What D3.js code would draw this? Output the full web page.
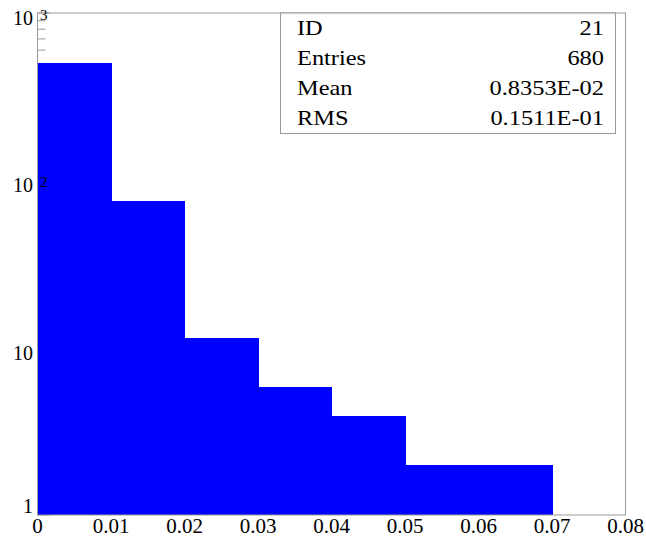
<!DOCTYPE html>
<html>
<head>
<meta charset="utf-8">
<script src="https://cdn.jsdelivr.net/npm/d3@7"></script>
<style>
  html, body { margin: 0; padding: 0; background: #fff; }
  svg { display: block; }
  text { font-family: "Liberation Serif", "DejaVu Serif", serif; fill: #000; }
</style>
</head>
<body>
<svg id="chart" width="646" height="539"></svg>
<script>
// Histogram bins (lower edges, width 0.01) and their contents
const binEdges = [0.00, 0.01, 0.02, 0.03, 0.04, 0.05, 0.06, 0.07];
const binCounts = [505, 75, 11.5, 5.8, 3.9, 2, 2];

// Axis ticks
const xTicks = [0, 0.01, 0.02, 0.03, 0.04, 0.05, 0.06, 0.07, 0.08];
const xTickLabels = ["0", "0.01", "0.02", "0.03", "0.04", "0.05", "0.06", "0.07", "0.08"];
const yMajor = [1, 10, 100, 1000];
const yMajorBase = ["1", "10", "10", "10"];
const yMajorExp = ["", "", "2", "3"];

// Statistics box
const statNames = ["ID", "Entries", "Mean", "RMS"];
const statValues = ["21", "680", "0.8353E-02", "0.1511E-01"];

const svg = d3.select("#chart");
const plotL = 37.5, plotR = 625.5, plotT = 13, plotB = 515;

const x = d3.scaleLinear().domain([0, 0.08]).range([plotL, plotR]);
const y = d3.scaleLog().domain([1, 1000]).range([plotB, plotT]);

// minor + major ticks on the log axis, drawn beneath the bars
const minor = [];
for (let k = 0; k < 3; k++) for (let m = 2; m <= 9; m++) minor.push(m * Math.pow(10, k));

const tickG = svg.append("g").attr("stroke", "#9a9a9a").attr("stroke-width", 1);
tickG.selectAll("line.minor").data(minor).join("line")
  .attr("class", "minor")
  .attr("x1", plotL).attr("x2", plotL + 8)
  .attr("y1", d => y(d)).attr("y2", d => y(d));
tickG.selectAll("line.major").data(yMajor).join("line")
  .attr("class", "major")
  .attr("x1", plotL).attr("x2", plotL + 12)
  .attr("y1", d => y(d)).attr("y2", d => y(d));

// bars
svg.append("g")
  .attr("shape-rendering", "crispEdges")
  .selectAll("rect").data(binCounts).join("rect")
  .attr("x", (d, i) => x(binEdges[i]))
  .attr("width", (d, i) => x(binEdges[i] + 0.01) - x(binEdges[i]) + 0.5)
  .attr("y", d => y(d))
  .attr("height", d => y(1) - y(d))
  .attr("fill", "#0000ff");

// frame
svg.append("rect")
  .attr("x", plotL).attr("y", plotT)
  .attr("width", plotR - plotL).attr("height", plotB - plotT)
  .attr("fill", "none").attr("stroke", "#9a9a9a").attr("stroke-width", 1);

// x labels
svg.append("g").selectAll("text").data(xTicks).join("text")
  .attr("x", d => x(d))
  .attr("y", 533)
  .attr("text-anchor", "middle")
  .attr("font-size", 21)
  .text((d, i) => xTickLabels[i]);

// y labels with exponents
const yl = svg.append("g");
yMajor.forEach((v, i) => {
  const ty = y(v);
  yl.append("text")
    .attr("x", 33)
    .attr("y", Math.min(ty + 12, 513))
    .attr("text-anchor", "end")
    .attr("font-size", 20)
    .text(yMajorBase[i]);
  if (yMajorExp[i]) {
    yl.append("text")
      .attr("x", 40)
      .attr("y", ty + 7)
      .attr("font-size", 15)
      .text(yMajorExp[i]);
  }
});

// statistics box
const bx0 = 280.5, bx1 = 615.5, by0 = plotT, by1 = 133.5;
svg.append("rect")
  .attr("x", bx0).attr("y", by0)
  .attr("width", bx1 - bx0).attr("height", by1 - by0)
  .attr("fill", "#fff").attr("stroke", "#9a9a9a").attr("stroke-width", 1);

const sg = svg.append("g");
statNames.forEach((name, i) => {
  const by = 35 + i * 30;
  sg.append("text")
    .attr("transform", `translate(297,${by}) scale(1.22,1)`)
    .attr("font-size", 20)
    .text(name);
  sg.append("text")
    .attr("transform", `translate(604,${by}) scale(1.22,1)`)
    .attr("text-anchor", "end")
    .attr("font-size", 20)
    .text(statValues[i]);
});
</script>
</body>
</html>
